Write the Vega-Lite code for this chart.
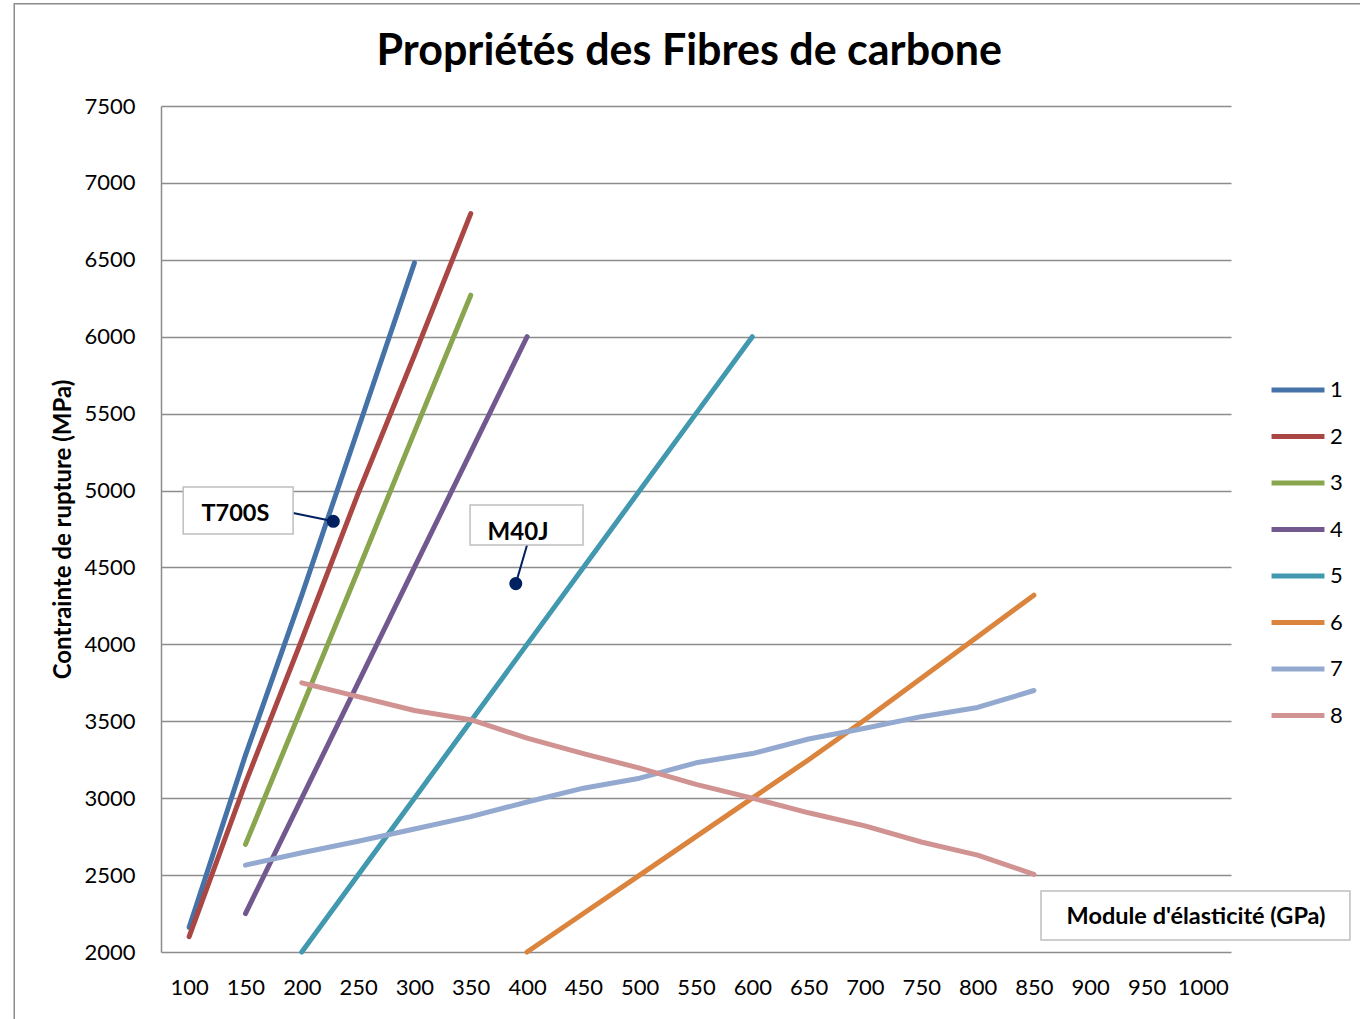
{
  "$schema": "https://vega.github.io/schema/vega-lite/v6.json",
  "width": 1070,
  "height": 846,
  "autosize": {"type": "none"},
  "padding": {"left": 161, "top": 106, "right": 129, "bottom": 67},
  "background": "white",
  "config": {"view": {"stroke": null}, "font": "Lato"},
  "datasets": {
    "series": [
      {"serie": "1", "module": 100, "contrainte": 2160},
      {"serie": "1", "module": 150, "contrainte": 3280},
      {"serie": "1", "module": 200, "contrainte": 4320},
      {"serie": "1", "module": 250, "contrainte": 5400},
      {"serie": "1", "module": 300, "contrainte": 6480},
      {"serie": "2", "module": 100, "contrainte": 2100},
      {"serie": "2", "module": 150, "contrainte": 3100},
      {"serie": "2", "module": 200, "contrainte": 4030},
      {"serie": "2", "module": 250, "contrainte": 4980},
      {"serie": "2", "module": 300, "contrainte": 5880},
      {"serie": "2", "module": 350, "contrainte": 6800},
      {"serie": "3", "module": 150, "contrainte": 2700},
      {"serie": "3", "module": 200, "contrainte": 3590},
      {"serie": "3", "module": 250, "contrainte": 4480},
      {"serie": "3", "module": 300, "contrainte": 5380},
      {"serie": "3", "module": 350, "contrainte": 6270},
      {"serie": "4", "module": 150, "contrainte": 2250},
      {"serie": "4", "module": 200, "contrainte": 3000},
      {"serie": "4", "module": 250, "contrainte": 3750},
      {"serie": "4", "module": 300, "contrainte": 4500},
      {"serie": "4", "module": 350, "contrainte": 5250},
      {"serie": "4", "module": 400, "contrainte": 6000},
      {"serie": "5", "module": 200, "contrainte": 2000},
      {"serie": "5", "module": 250, "contrainte": 2500},
      {"serie": "5", "module": 300, "contrainte": 3000},
      {"serie": "5", "module": 350, "contrainte": 3500},
      {"serie": "5", "module": 400, "contrainte": 4000},
      {"serie": "5", "module": 450, "contrainte": 4500},
      {"serie": "5", "module": 500, "contrainte": 5000},
      {"serie": "5", "module": 550, "contrainte": 5500},
      {"serie": "5", "module": 600, "contrainte": 6000},
      {"serie": "6", "module": 400, "contrainte": 2000},
      {"serie": "6", "module": 450, "contrainte": 2250},
      {"serie": "6", "module": 500, "contrainte": 2500},
      {"serie": "6", "module": 550, "contrainte": 2750},
      {"serie": "6", "module": 600, "contrainte": 3000},
      {"serie": "6", "module": 650, "contrainte": 3250},
      {"serie": "6", "module": 700, "contrainte": 3510},
      {"serie": "6", "module": 750, "contrainte": 3780},
      {"serie": "6", "module": 800, "contrainte": 4050},
      {"serie": "6", "module": 850, "contrainte": 4320},
      {"serie": "7", "module": 150, "contrainte": 2565},
      {"serie": "7", "module": 200, "contrainte": 2645},
      {"serie": "7", "module": 250, "contrainte": 2720},
      {"serie": "7", "module": 300, "contrainte": 2800},
      {"serie": "7", "module": 350, "contrainte": 2880},
      {"serie": "7", "module": 400, "contrainte": 2975},
      {"serie": "7", "module": 450, "contrainte": 3065},
      {"serie": "7", "module": 500, "contrainte": 3130},
      {"serie": "7", "module": 550, "contrainte": 3230},
      {"serie": "7", "module": 600, "contrainte": 3290},
      {"serie": "7", "module": 650, "contrainte": 3385},
      {"serie": "7", "module": 700, "contrainte": 3455},
      {"serie": "7", "module": 750, "contrainte": 3530},
      {"serie": "7", "module": 800, "contrainte": 3590},
      {"serie": "7", "module": 850, "contrainte": 3700},
      {"serie": "8", "module": 200, "contrainte": 3750},
      {"serie": "8", "module": 250, "contrainte": 3660},
      {"serie": "8", "module": 300, "contrainte": 3570},
      {"serie": "8", "module": 350, "contrainte": 3510},
      {"serie": "8", "module": 400, "contrainte": 3390},
      {"serie": "8", "module": 450, "contrainte": 3290},
      {"serie": "8", "module": 500, "contrainte": 3195},
      {"serie": "8", "module": 550, "contrainte": 3090},
      {"serie": "8", "module": 600, "contrainte": 3000},
      {"serie": "8", "module": 650, "contrainte": 2905},
      {"serie": "8", "module": 700, "contrainte": 2820},
      {"serie": "8", "module": 750, "contrainte": 2715},
      {"serie": "8", "module": 800, "contrainte": 2630},
      {"serie": "8", "module": 850, "contrainte": 2505}
    ],
    "fibres": [
      {"fibre": "T700S", "module": 228, "contrainte": 4800},
      {"fibre": "M40J", "module": 390, "contrainte": 4395}
    ],
    "one": [{}]
  },
  "layer": [
    {
      "data": {"name": "one"},
      "mark": {"type": "rect", "fill": "white", "fillOpacity": 0, "stroke": "#8C8C8C", "strokeWidth": 1.5},
      "encoding": {
        "x": {"datum": -55.3, "type": "quantitative"},
        "x2": {"datum": 1600},
        "y": {"datum": 8164, "type": "quantitative"},
        "y2": {"datum": -1000}
      }
    },
    {
      "data": {"name": "series"},
      "mark": {"type": "line", "strokeWidth": 5, "strokeCap": "round", "strokeJoin": "round"},
      "encoding": {
        "x": {
          "field": "module", "type": "quantitative",
          "scale": {"domain": [75, 1025], "nice": false, "zero": false},
          "axis": {"values": [100, 150, 200, 250, 300, 350, 400, 450, 500, 550, 600, 650, 700, 750, 800, 850, 900, 950, 1000], "format": "d", "grid": false, "domain": false, "ticks": false, "labelFont": "Lato", "labelFontSize": 22, "labelColor": "black", "labelPadding": 25, "labelFlush": false, "labelOverlap": false, "title": null}
        },
        "y": {
          "field": "contrainte", "type": "quantitative",
          "scale": {"domain": [2000, 7500], "nice": false, "zero": false},
          "axis": {"values": [2000, 2500, 3000, 3500, 4000, 4500, 5000, 5500, 6000, 6500, 7000, 7500], "format": "d", "grid": true, "gridColor": "#8C8C8C", "gridWidth": 1.5, "domain": true, "domainColor": "#8C8C8C", "domainWidth": 1.5, "ticks": false, "labelFont": "Lato", "labelFontSize": 22, "labelColor": "black", "labelPadding": 26, "labelFlush": false, "labelOverlap": false, "title": "Contrainte de rupture (MPa)", "titleFont": "Lato", "titleFontSize": 24, "titleFontWeight": "bold", "titleColor": "black", "titlePadding": 8}
        },
        "color": {
          "field": "serie", "type": "nominal",
          "scale": {"domain": ["1", "2", "3", "4", "5", "6", "7", "8"], "range": ["#4572A7", "#AA4643", "#89A54E", "#71588F", "#4198AF", "#DB843D", "#93A9CF", "#D19392"]},
          "legend": {"orient": "none", "legendX": 1108, "legendY": 255, "title": null, "symbolType": "stroke", "symbolStrokeWidth": 5, "symbolSize": 2800, "labelFont": "Lato", "labelFontSize": 22, "labelColor": "black", "rowPadding": 6.5, "labelOffset": 3}
        }
      }
    },
    {
      "data": {"name": "one"},
      "mark": {"type": "rule", "stroke": "#002060", "strokeWidth": 2},
      "encoding": {
        "x": {"datum": 192.3, "type": "quantitative"},
        "y": {"datum": 4854, "type": "quantitative"},
        "x2": {"datum": 228},
        "y2": {"datum": 4800}
      }
    },
    {
      "data": {"name": "one"},
      "mark": {"type": "rule", "stroke": "#002060", "strokeWidth": 2},
      "encoding": {
        "x": {"datum": 400, "type": "quantitative"},
        "y": {"datum": 4646, "type": "quantitative"},
        "x2": {"datum": 390},
        "y2": {"datum": 4395}
      }
    },
    {
      "data": {"name": "fibres"},
      "mark": {"type": "point", "filled": true, "color": "#002060", "size": 170, "opacity": 1},
      "encoding": {
        "x": {"field": "module", "type": "quantitative"},
        "y": {"field": "contrainte", "type": "quantitative"}
      }
    },
    {
      "data": {"name": "one"},
      "mark": {"type": "rect", "fill": "white", "stroke": "#BFBFBF", "strokeWidth": 1.5},
      "encoding": {
        "x": {"datum": 94.7, "type": "quantitative"},
        "x2": {"datum": 192.3},
        "y": {"datum": 5023, "type": "quantitative"},
        "y2": {"datum": 4718}
      }
    },
    {
      "data": {"name": "one"},
      "mark": {"type": "text", "text": "T700S", "font": "Lato", "fontSize": 23.5, "fontWeight": "bold", "color": "black", "align": "center", "baseline": "middle"},
      "encoding": {
        "x": {"datum": 141, "type": "quantitative"},
        "y": {"datum": 4848, "type": "quantitative"}
      }
    },
    {
      "data": {"name": "one"},
      "mark": {"type": "rect", "fill": "white", "stroke": "#BFBFBF", "strokeWidth": 1.5},
      "encoding": {
        "x": {"datum": 349.4, "type": "quantitative"},
        "x2": {"datum": 449.7},
        "y": {"datum": 4906, "type": "quantitative"},
        "y2": {"datum": 4646}
      }
    },
    {
      "data": {"name": "one"},
      "mark": {"type": "text", "text": "M40J", "font": "Lato", "fontSize": 24, "fontWeight": "bold", "color": "black", "align": "center", "baseline": "middle"},
      "encoding": {
        "x": {"datum": 392, "type": "quantitative"},
        "y": {"datum": 4722, "type": "quantitative"}
      }
    },
    {
      "data": {"name": "one"},
      "mark": {"type": "rect", "fill": "white", "stroke": "#BFBFBF", "strokeWidth": 1.5},
      "encoding": {
        "x": {"datum": 856.3, "type": "quantitative"},
        "x2": {"datum": 1130.6},
        "y": {"datum": 2397, "type": "quantitative"},
        "y2": {"datum": 2078}
      }
    },
    {
      "data": {"name": "one"},
      "mark": {"type": "text", "text": "Module d'élasticité (GPa)", "font": "Lato", "fontSize": 23.5, "fontWeight": "bold", "color": "black", "align": "center", "baseline": "middle"},
      "encoding": {
        "x": {"datum": 994, "type": "quantitative"},
        "y": {"datum": 2228, "type": "quantitative"}
      }
    },
    {
      "data": {"name": "one"},
      "mark": {"type": "text", "text": "Propriétés des Fibres de carbone", "font": "Lato", "fontSize": 43, "fontWeight": "bold", "color": "black", "align": "center", "baseline": "middle"},
      "encoding": {
        "x": {"datum": 544, "type": "quantitative"},
        "y": {"datum": 7852, "type": "quantitative"}
      }
    }
  ]
}
